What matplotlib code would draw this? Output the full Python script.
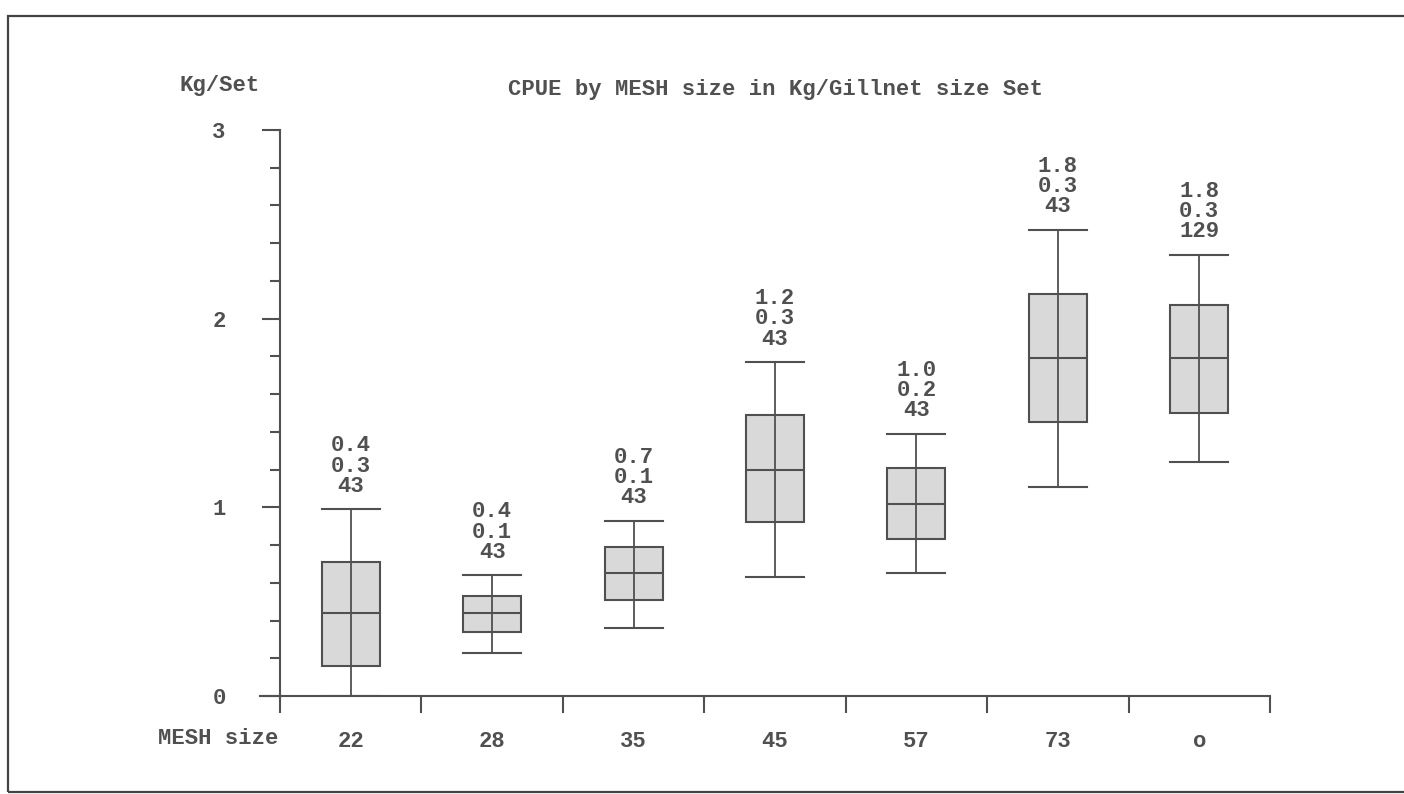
import matplotlib.pyplot as plt
from matplotlib.patches import Rectangle
from matplotlib.lines import Line2D

# data
mesh = ['22', '28', '35', '45', '57', '73', 'o']
whis_lo = [0.00, 0.23, 0.36, 0.63, 0.65, 1.11, 1.24]
q1 = [0.16, 0.34, 0.51, 0.92, 0.83, 1.45, 1.50]
med = [0.44, 0.44, 0.65, 1.20, 1.02, 1.79, 1.79]
q3 = [0.71, 0.53, 0.79, 1.49, 1.21, 2.13, 2.07]
whis_hi = [0.99, 0.64, 0.93, 1.77, 1.39, 2.47, 2.34]
lbl_mean = ['0.4', '0.4', '0.7', '1.2', '1.0', '1.8', '1.8']
lbl_sd = ['0.3', '0.1', '0.1', '0.3', '0.2', '0.3', '0.3']
lbl_n = ['43', '43', '43', '43', '43', '43', '129']

W, H = 1404, 794
ink = '#505050'
font = 'Liberation Mono'
fs = 16

fig = plt.figure(figsize=(W / 100, H / 100), dpi=100)
fig.patch.set_facecolor('white')

# frame round the plot (right edge falls outside the page)
fig.add_artist(Rectangle((8 / W, 1 - 792 / H), 1.1, (792 - 16) / H,
                         transform=fig.transFigure, fill=False,
                         edgecolor='#444444', lw=1.6))

ax = fig.add_axes([280 / W, (H - 696) / H, 990 / W, (696 - 130) / H])
ax.set_xlim(-0.5, 6.5)
ax.set_ylim(0, 3)
for s in ['top', 'right', 'bottom']:
    ax.spines[s].set_visible(False)
ax.spines['left'].set_color(ink)
ax.spines['left'].set_linewidth(1.5)

stats = []
for i in range(len(mesh)):
    stats.append(dict(med=med[i], q1=q1[i], q3=q3[i],
                      whislo=whis_lo[i], whishi=whis_hi[i], fliers=[]))

ax.bxp(stats, positions=range(len(mesh)), widths=0.41, patch_artist=True,
       showfliers=False,
       boxprops=dict(facecolor='#d9d9d9', edgecolor=ink, linewidth=1.5),
       medianprops=dict(color=ink, linewidth=1.5),
       whiskerprops=dict(color=ink, linewidth=1.3),
       capprops=dict(color=ink, linewidth=1.5),
       capwidths=0.41)

# line through the box centre like the original
for i in range(len(mesh)):
    ax.plot([i, i], [q1[i], q3[i]], color=ink, lw=1.3, zorder=3)

for i in range(len(mesh)):
    ax.annotate(lbl_mean[i] + '\n' + lbl_sd[i] + '\n' + lbl_n[i],
                (i, whis_hi[i]), xytext=(0, 9), textcoords='offset points',
                ha='center', va='bottom', multialignment='center',
                fontsize=fs, family=font, color=ink, linespacing=0.95,
                fontweight='bold')

# y axis ticks
ax.set_yticks([0, 1, 2, 3])
ax.set_yticks([0.2 * k for k in range(16)], minor=True)
ax.tick_params(axis='y', which='major', direction='out', length=13,
               width=1.5, color=ink, pad=26, labelsize=fs, labelcolor=ink)
ax.tick_params(axis='y', which='minor', direction='out', length=7,
               width=1.5, color=ink)
for t in ax.get_yticklabels():
    t.set_family(font)
    t.set_fontweight('bold')

# x axis: boundary ticks with labels in between
ax.set_xticks([k - 0.5 for k in range(len(mesh) + 1)])
ax.set_xticklabels([])
ax.set_xticks(range(len(mesh)), minor=True)
ax.set_xticklabels(mesh, minor=True)
ax.tick_params(axis='x', which='major', direction='out', length=12,
               width=1.5, color=ink)
ax.tick_params(axis='x', which='minor', length=0, pad=25,
               labelsize=fs, labelcolor=ink)
for t in ax.get_xticklabels(minor=True):
    t.set_family(font)
    t.set_fontweight('bold')

ax.add_line(Line2D([-20 / 990, 1], [0, 0], transform=ax.transAxes,
                   color=ink, lw=1.5, clip_on=False))

txt = dict(ha='center', va='center', fontsize=fs, family=font, color=ink,
           fontweight='bold')
fig.text(220 / W, 1 - 86 / H, 'Kg/Set', **txt)
fig.text(775 / W, 1 - 90 / H, 'CPUE by MESH size in Kg/Gillnet size Set', **txt)
fig.text(218 / W, 1 - 738 / H, 'MESH size', **txt)

fig.savefig('out.png', dpi=100)
